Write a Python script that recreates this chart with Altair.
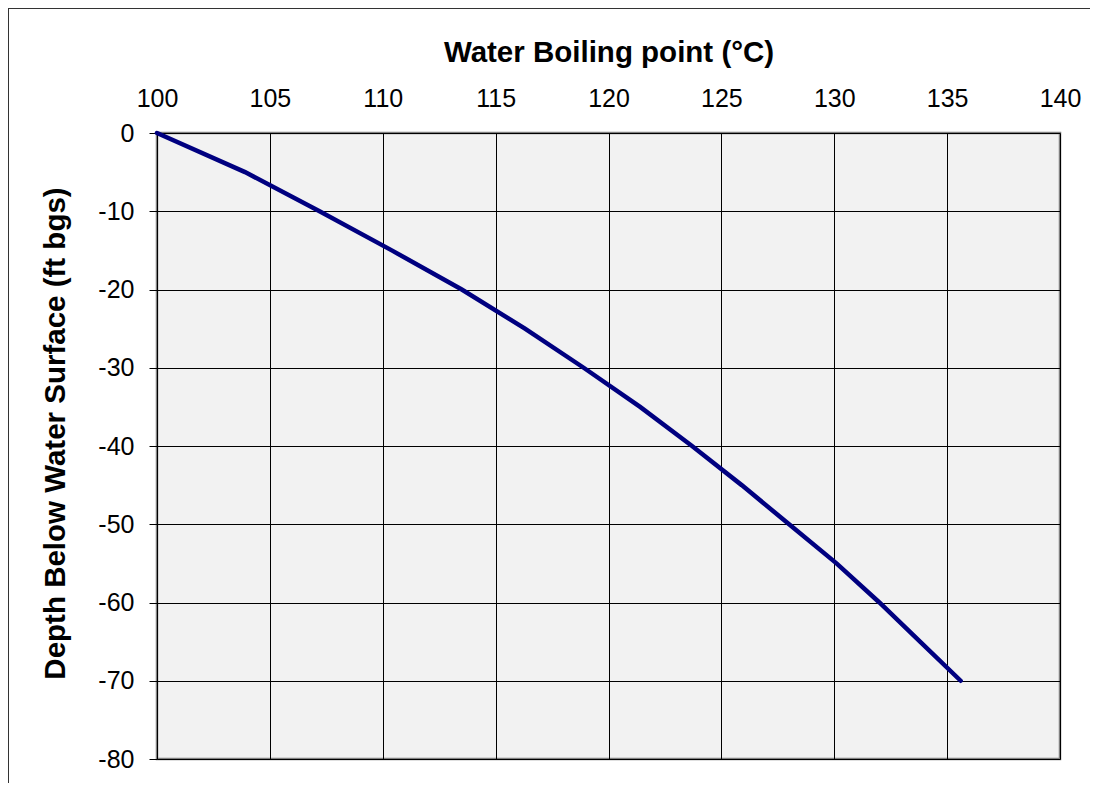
import altair as alt
import pandas as pd

depth_ft = [0, -5, -10, -15, -20, -25, -30, -35, -40, -45, -50, -55, -60, -65, -70]
boiling_c = [100.0, 103.9, 107.2, 110.4, 113.5, 116.3, 118.9, 121.4, 123.7, 125.9, 128.0, 130.1, 132.0, 133.8, 135.6]

x_ticks = [100, 105, 110, 115, 120, 125, 130, 135, 140]
y_ticks = [0, -10, -20, -30, -40, -50, -60, -70, -80]

df = pd.DataFrame({"temp": boiling_c, "depth": depth_ft, "order": list(range(len(depth_ft)))})

FONT = "Liberation Sans"

line = alt.Chart(df).mark_line(color="#000080", strokeWidth=4.5, strokeCap="round").encode(
    x=alt.X(
        "temp:Q",
        scale=alt.Scale(domain=[100, 140], nice=False, zero=False),
        axis=alt.Axis(
            orient="top",
            values=x_ticks,
            title="Water Boiling point (°C)",
            titleFontSize=29.5,
            titleFont=FONT,
            titleFontWeight="bold",
            titleColor="black",
            titleBaseline="alphabetic",
            titleY=-72,
            labelFontSize=25,
            labelFont=FONT,
            labelColor="black",
            labelPadding=22,
            labelFlush=False,
            labelOverlap=False,
            ticks=False,
            domain=False,
            grid=True,
            gridColor="black",
            gridWidth=1,
            gridOpacity=1,
        ),
    ),
    y=alt.Y(
        "depth:Q",
        scale=alt.Scale(domain=[-80, 0], nice=False, zero=False),
        axis=alt.Axis(
            values=y_ticks,
            labelExpr="'' + datum.value",
            title="Depth Below Water Surface (ft bgs)",
            titleFontSize=29.5,
            titleFont=FONT,
            titleFontWeight="bold",
            titleColor="black",
            titleAngle=270,
            titleAlign="center",
            titleBaseline="middle",
            titleX=-102,
            titleY=300,
            labelFontSize=25,
            labelFont=FONT,
            labelColor="black",
            labelPadding=15,
            labelFlush=False,
            labelOverlap=False,
            ticks=True,
            tickSize=8,
            tickColor="black",
            tickWidth=1,
            domain=False,
            grid=True,
            gridColor="black",
            gridWidth=1,
            gridOpacity=1,
        ),
    ),
    order="order:Q",
)

border_v = alt.Chart(df).mark_rule(color="#333333", strokeWidth=1).encode(
    x=alt.value(-148.5), y=alt.value(-124.5), y2=alt.value(700)
)
border_h = alt.Chart(df).mark_rule(color="#333333", strokeWidth=1).encode(
    x=alt.value(-148.5), x2=alt.value(1000), y=alt.value(-124.5)
)

chart = alt.layer(line, border_v, border_h).properties(
    width=903,
    height=626,
    padding={"left": 149, "top": 125, "right": 30, "bottom": 24},
    autosize=alt.AutoSizeParams(type="none"),
    background="white",
).configure_view(
    fill="#F2F2F2",
    stroke="#808080",
    strokeWidth=2.5,
)

chart.save("out.html", embed_options={"renderer": "svg", "actions": False})
